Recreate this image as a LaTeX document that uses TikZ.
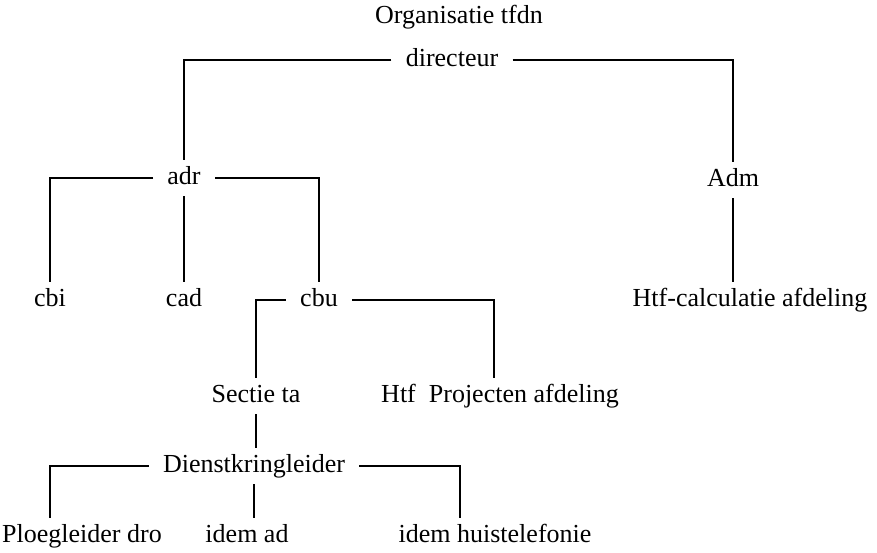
\documentclass[tikz,border=0pt]{standalone}
\usepackage{fontspec}
\setmainfont{Liberation Serif}
\usepackage{tikz}

\begin{document}
\begin{tikzpicture}[x=0.5pt,y=-0.5pt,
	every node/.style={font=\fontsize{13}{15}\selectfont, text height=9pt, text depth=3pt, inner xsep=7pt, inner ysep=3pt},
	elbow/.style={to path={-| (\tikztotarget)}}]
	\useasboundingbox (0,0) rectangle (877,552);
	% units are pixels of the original chart
	\node (org)    at (459,17)  {Organisatie tfdn};
	\node (dir)    at (452,60)  {directeur};
	\node (adr)    at (184,178) {adr};
	\node (adm)    at (733,180) {Adm};
	\node (cbi)    at (50,300)  {cbi};
	\node (cad)    at (184,300) {cad};
	\node (cbu)    at (319,300) {cbu};
	\node (calc)   at (750,300) {Htf-calculatie afdeling};
	\node (sectie) at (256,396) {Sectie ta};
	\node (htf)    at (500,396) {Htf\ \ Projecten afdeling};
	\node (dienst) at (254,466) {Dienstkringleider};
	\node (ploeg)  at (82,536)  {Ploegleider dro};
	\node (idemad) at (247,536) {idem ad};
	\node (huis)   at (495,536) {idem huistelefonie};
	\path[draw, line width=1pt]
	(dir.west) edge [elbow] (adr.north)
	(dir.east) edge [elbow] (adm.north)
	(adm.south) edge (adm.south |- calc.north)
	(adr.west) edge [elbow] (cbi.north)
	(adr.south) edge (adr.south |- cad.north)
	(adr.east) edge [elbow] (cbu.north)
	(cbu.west) edge [elbow] (sectie.north)
	(cbu.east) edge [elbow] ([xshift=-3pt]htf.north)
	(sectie.south) edge (sectie.south |- dienst.north)
	(dienst.west) edge [elbow] ([xshift=-16pt]ploeg.north)
	(dienst.south) edge (dienst.south |- idemad.north)
	(dienst.east) edge [elbow] ([xshift=-17.5pt]huis.north);
\end{tikzpicture}
\end{document}
